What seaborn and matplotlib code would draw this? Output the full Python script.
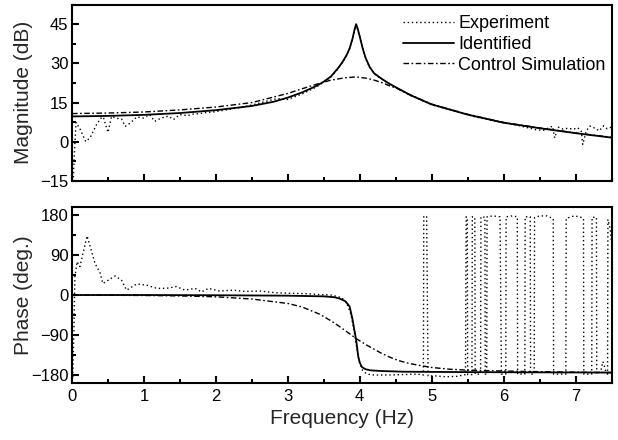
import matplotlib
matplotlib.use("Agg")
import matplotlib.pyplot as plt
import seaborn as sns
import pandas as pd
from matplotlib.ticker import MultipleLocator

# ---------------- data ----------------
freq_identified_mag = [0, 0.5, 1, 1.5, 2, 2.5, 2.8, 3.0, 3.2, 3.4, 3.5, 3.6, 3.7, 3.76, 3.82,
                       3.86, 3.9, 3.93, 3.95, 3.97, 4.0, 4.04, 4.08, 4.14, 4.2, 4.3, 4.4, 4.5,
                       4.7, 5.0, 5.5, 6.0, 6.5, 7.0, 7.5]
mag_identified = [9.7, 9.9, 10.3, 11.0, 12.1, 13.7, 15.3, 16.9, 18.9, 21.4, 23.0, 25.0, 28.2,
                  30.5, 33.3, 35.8, 39.5, 43.2, 45.0, 43.4, 40.3, 35.8, 32.2, 28.5, 26.2, 24.2,
                  22.4, 20.9, 17.9, 14.3, 10.4, 7.3, 5.2, 3.3, 1.6]

freq_control_mag = [0, 0.5, 1, 1.5, 2, 2.5, 3.0, 3.2, 3.4, 3.6, 3.8, 3.95, 4.1, 4.2, 4.3, 4.4,
                    4.5, 4.7, 5.0, 5.5, 6.0, 6.5, 7.0, 7.5]
mag_control = [10.8, 11.0, 11.4, 12.2, 13.3, 15.0, 18.5, 20.3, 22.0, 23.6, 24.5, 24.8, 24.3,
               23.6, 22.7, 21.6, 20.6, 18.0, 14.4, 10.5, 7.4, 5.3, 3.4, 1.7]

freq_experiment_mag = [0.01, 0.03, 0.056, 0.11, 0.19, 0.25, 0.34, 0.4, 0.435, 0.5, 0.55, 0.62,
                       0.69, 0.74, 0.81, 0.9, 0.99, 1.08, 1.15, 1.24, 1.34, 1.41, 1.5, 1.6,
                       1.69, 1.78, 1.87, 1.96, 2.1, 2.25, 2.4, 2.55, 2.7, 2.85, 3.0, 3.2, 3.4,
                       3.6, 3.7, 3.8, 3.86, 3.9, 3.93, 3.95, 3.97, 4.0, 4.04, 4.1, 4.2, 4.3,
                       4.5, 4.7, 5.0, 5.3, 5.6, 5.9, 6.2, 6.45, 6.55, 6.62, 6.68, 6.71, 6.76,
                       6.82, 6.9, 6.97, 7.03, 7.08, 7.1, 7.15, 7.2, 7.27, 7.33, 7.39, 7.44, 7.5]
mag_experiment = [-20, -6, 7.4, 5.0, 0.1, 1.5, 6.5, 9.0, 9.5, 3.6, 9.7, 9.0, 8.7, 5.9, 7.2,
                  9.5, 9.1, 10.4, 7.8, 9.1, 9.8, 8.5, 10.4, 10.0, 10.6, 10.8, 11.2, 11.4, 12.0,
                  12.7, 13.5, 14.4, 15.5, 16.5, 16.2, 18.3, 21.0, 24.8, 28.0, 32.0, 35.6, 39.3,
                  42.8, 44.8, 43.0, 40.2, 35.8, 30.5, 26.0, 24.0, 20.8, 17.8, 14.2, 11.9, 9.6,
                  7.8, 6.3, 4.6, 4.4, 5.2, 6.0, 1.5, 5.6, 4.9, 5.2, 4.8, 5.4, 4.0, -1.0, 4.2,
                  6.0, 5.2, 4.2, 6.1, 5.0, 5.6]

freq_identified_ph = [0, 1, 2, 3, 3.5, 3.65, 3.72, 3.8, 3.86, 3.9, 3.93, 3.95, 3.98, 4.0, 4.03,
                      4.08, 4.15, 4.3, 4.6, 5.5, 7.5]
phase_identified = [0, 0, -0.5, -1.5, -3, -5, -8, -14, -26, -55, -83, -101, -139, -152, -162,
                    -167, -169.5, -171, -172.5, -173.5, -174.5]

freq_control_ph = [0, 0.5, 1, 1.5, 2, 2.5, 3.0, 3.2, 3.44, 3.6, 3.72, 3.85, 3.95, 4.1, 4.19,
                   4.3, 4.42, 4.55, 4.69, 4.85, 5.0, 5.25, 5.5, 6.0, 6.5, 7.0, 7.5]
phase_control = [0, -0.5, -1, -2, -4, -9, -19, -27, -43, -58, -71, -86, -98, -113, -121, -131,
                 -140, -148, -154, -159, -163, -167, -169, -171, -172.5, -173.5, -174.5]

freq_experiment_ph = [0.01, 0.025, 0.04, 0.07, 0.11, 0.21, 0.32, 0.39, 0.43, 0.53, 0.6, 0.69,
                      0.76, 0.83, 0.9, 1.04, 1.18, 1.31, 1.45, 1.57, 1.71, 1.8, 1.9, 2.05, 2.24,
                      2.4, 2.61, 2.84, 3.03, 3.26, 3.44, 3.6, 3.75, 3.82, 3.88, 3.92, 3.95,
                      3.99, 4.04, 4.1, 4.2, 4.4, 4.6, 4.8, 4.885, 4.89, 4.93, 4.95, 5.05, 5.2,
                      5.35, 5.47, 5.48, 5.495, 5.5, 5.56, 5.565, 5.6, 5.605, 5.68, 5.685,
                      5.74, 5.745, 5.765, 5.77, 5.85, 5.95, 5.97, 6.03, 6.035, 6.12, 6.19,
                      6.195, 6.295, 6.3, 6.37, 6.375, 6.425, 6.43, 6.5, 6.6, 6.69, 6.695,
                      6.865, 6.87, 6.95, 7.05, 7.11, 7.115, 7.225, 7.23, 7.29, 7.295, 7.35,
                      7.38, 7.4, 7.42, 7.445, 7.45, 7.48, 7.5]
phase_experiment = [-185, -90, 40, 75, 64, 133, 71, 50, 26, 36, 43, 33, 11, 18, 25, 22, 15, 15,
                    19, 11, 15, 7, 15, 9, 11, 8, 9, 5, 4, 3, 1, 0, -6, -18, -45, -80, -110,
                    -148, -170, -178, -180, -180, -179, -178, -180, 178, 176, -182, -182, -184,
                    -183, -179, 176, 175, -179, -179, 176, 175, -178, -178, 176, 175, -178,
                    -178, 176, 178, 176, -178, -178, 176, 178, 176, -178, -178, 176, 176,
                    -178, -178, 174, 178, 178, 172, -178, -178, 172, 177, 177, 172, -178,
                    -178, 175, 175, -178, -172, -150, -160, -172, -178, 170, 150, 120]

# ---------------- style ----------------
sns.set_theme(style="ticks")
plt.rcParams['font.family'] = ['Liberation Sans', 'DejaVu Sans']
plt.rcParams['axes.linewidth'] = 1.5

fig = plt.figure(figsize=(6.18, 4.4), dpi=100)
ax1 = fig.add_axes([0.1165, 0.5886, 0.873, 0.4011])
ax2 = fig.add_axes([0.1165, 0.1295, 0.873, 0.4000])

dot_style = dict(color="black", linewidth=1.0, dashes=(1, 2))
solid_style = dict(color="black", linewidth=1.3)
dashdot_style = dict(color="black", linewidth=1.0, dashes=(4, 1.8, 1.2, 1.8))


def draw(ax, x, y, label, style):
    df = pd.DataFrame({"f": x, "v": y})
    sns.lineplot(data=df, x="f", y="v", ax=ax, estimator=None, sort=False,
                 label=label, **style)


draw(ax1, freq_experiment_mag, mag_experiment, "Experiment", dot_style)
draw(ax1, freq_identified_mag, mag_identified, "Identified", solid_style)
draw(ax1, freq_control_mag, mag_control, "Control Simulation", dashdot_style)

draw(ax2, freq_experiment_ph, phase_experiment, None, dot_style)
draw(ax2, freq_identified_ph, phase_identified, None, solid_style)
draw(ax2, freq_control_ph, phase_control, None, dashdot_style)

for ax in (ax1, ax2):
    ax.set_xlim(0, 7.5)
    ax.xaxis.set_major_locator(MultipleLocator(1))
    ax.xaxis.set_minor_locator(MultipleLocator(0.5))
    ax.tick_params(which="both", direction="in", top=False, right=False,
                   width=1.5, labelsize=12, colors="black")
    ax.tick_params(which="major", length=5)
    ax.tick_params(which="minor", length=3)
    ax.tick_params(axis="y", pad=2.5)
    ax.tick_params(axis="x", pad=4.5)
    for s in ax.spines.values():
        s.set_visible(True)
        s.set_linewidth(1.5)
        s.set_color("black")
    ax.set_xlabel("")

ax1.set_ylim(-15, 52.5)
ax1.set_yticks([-15, 0, 15, 30, 45])
ax1.yaxis.set_minor_locator(MultipleLocator(7.5))
ax1.tick_params(axis="x", labelbottom=False)
ax1.set_ylabel("Magnitude (dB)", fontsize=15)
ax1.yaxis.set_label_coords(-0.0714, 0.5)

ax2.set_ylim(-198, 198)
ax2.set_yticks([-180, -90, 0, 90, 180])
ax2.yaxis.set_minor_locator(MultipleLocator(45))
ax2.set_ylabel("Phase (deg.)", fontsize=15)
ax2.yaxis.set_label_coords(-0.0714, 0.5)
ax2.set_xlabel("Frequency (Hz)", fontsize=15)
ax2.xaxis.set_label_coords(0.5, -0.15)

leg = ax1.legend(loc="upper right", bbox_to_anchor=(1.004, 0.985), frameon=False,
                 fontsize=13, handlelength=2.8, handletextpad=0.25, labelspacing=0.2,
                 borderaxespad=0.15, borderpad=0.3)
for t in leg.get_texts():
    t.set_color("black")

fig.savefig("out.png", dpi=100)
